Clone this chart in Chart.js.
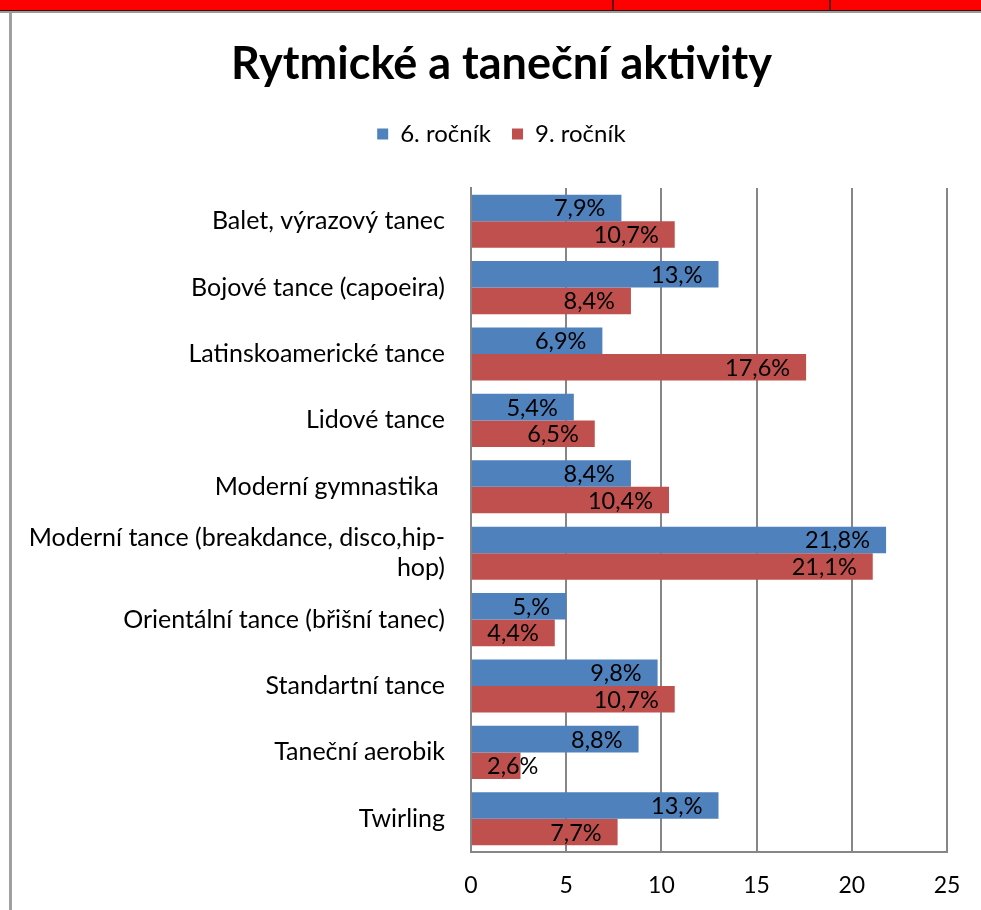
<!DOCTYPE html>
<html>
<head>
<meta charset="utf-8">
<script src="https://cdn.jsdelivr.net/npm/chart.js@4/dist/chart.umd.min.js"></script>
<style>
  html, body { margin: 0; padding: 0; background: #fff; }
  #wrap { position: relative; width: 981px; height: 910px; overflow: hidden; }
  #topbar { position: absolute; left: 0; top: 0; width: 981px; height: 10px; background: #ff0000; border-bottom: 1px solid #3a1010; }
  #topline { position: absolute; left: 0; top: 11px; width: 981px; height: 2px; background: #9a9a9a; }
  .sep { position: absolute; top: 0; width: 2px; height: 11px; background: #5a0a0a; }
  #leftline { position: absolute; left: 9px; top: 13px; width: 3px; height: 897px; background: #a0a0a0; }
  #chart { position: absolute; left: 0; top: 0; }
</style>
</head>
<body>
<div id="wrap">
  <div id="topbar"></div>
  <div class="sep" style="left:612px"></div>
  <div class="sep" style="left:829px"></div>
  <div id="topline"></div>
  <div id="leftline"></div>
  <canvas id="chart" width="981" height="910"></canvas>
</div>
<script>
const categories = [
  'Balet, výrazový tanec',
  'Bojové tance (capoeira)',
  'Latinskoamerické tance',
  'Lidové tance',
  'Moderní gymnastika ',
  ['Moderní tance (breakdance, disco,hip-', 'hop)'],
  'Orientální tance (břišní tanec)',
  'Standartní tance',
  'Taneční aerobik',
  'Twirling'
];
const grade6 = [7.9, 13, 6.9, 5.4, 8.4, 21.8, 5, 9.8, 8.8, 13];
const grade9 = [10.7, 8.4, 17.6, 6.5, 10.4, 21.1, 4.4, 10.7, 2.6, 7.7];
const labels6 = ['7,9%', '13,%', '6,9%', '5,4%', '8,4%', '21,8%', '5,%', '9,8%', '8,8%', '13,%'];
const labels9 = ['10,7%', '8,4%', '17,6%', '6,5%', '10,4%', '21,1%', '4,4%', '10,7%', '2,6%', '7,7%'];
const xTicks = [0, 5, 10, 15, 20, 25];

const FONT = 'Lato, "Open Sans", sans-serif';

// value labels at the bar ends, Excel style "inside end"
const barLabels = {
  id: 'barLabels',
  afterDatasetsDraw(chart) {
    const ctx = chart.ctx;
    const texts = [labels6, labels9];
    ctx.save();
    ctx.font = '23.5px ' + FONT;
    ctx.fillStyle = '#000';
    ctx.textBaseline = 'middle';
    ctx.textAlign = 'left';
    chart.data.datasets.forEach((ds, i) => {
      chart.getDatasetMeta(i).data.forEach((bar, j) => {
        const t = texts[i][j];
        const w = ctx.measureText(t).width;
        const x = Math.max(bar.x - 16 - w, bar.base + 15);
        ctx.fillText(t, x, bar.y + 1);
      });
    });
    ctx.restore();
  }
};

new Chart(document.getElementById('chart'), {
  type: 'bar',
  data: {
    labels: categories,
    datasets: [
      { label: '6. ročník', data: grade6, backgroundColor: '#4f81bd' },
      { label: '9. ročník', data: grade9, backgroundColor: '#c0504d' }
    ]
  },
  options: {
    indexAxis: 'y',
    responsive: false,
    animation: false,
    maintainAspectRatio: false,
    layout: { padding: { left: 22, right: 0, top: 0, bottom: 0 } },
    datasets: { bar: { categoryPercentage: 0.8, barPercentage: 1.0 } },
    plugins: {
      title: {
        display: true,
        text: 'Rytmické a taneční aktivity',
        color: '#000',
        font: { family: FONT, size: 45, weight: 'bold' },
        padding: { top: 37, bottom: 10 }
      },
      legend: {
        display: true,
        weight: 1700,
        labels: {
          color: '#000',
          font: { family: FONT, size: 24 },
          boxWidth: 11,
          boxHeight: 11,
          padding: 21
        }
      },
      // empty spacer between legend and plot
      subtitle: {
        display: true,
        weight: 500,
        text: ' ',
        font: { size: 10 },
        padding: { top: 20, bottom: 0 }
      },
      tooltip: { enabled: false }
    },
    scales: {
      x: {
        min: 0,
        max: 25,
        afterBuildTicks: s => { s.ticks = xTicks.map(v => ({ value: v })); },
        grid: { color: '#868686', lineWidth: 2, drawTicks: false },
        border: { color: '#868686', width: 2 },
        ticks: { color: '#000', font: { family: FONT, size: 23 }, padding: 20, maxRotation: 0 },
        afterFit: s => { s.height = 46; s.paddingRight = 34; }
      },
      y: {
        grid: { display: false, drawTicks: false },
        border: { color: '#868686', width: 2 },
        ticks: { color: '#000', font: { family: FONT, size: 25 }, padding: 26, autoSkip: false },
        afterFit: s => { s.width = 449; s.paddingTop = 188; s.paddingBottom = 58; }
      }
    }
  },
  plugins: [barLabels]
});
</script>
</body>
</html>
